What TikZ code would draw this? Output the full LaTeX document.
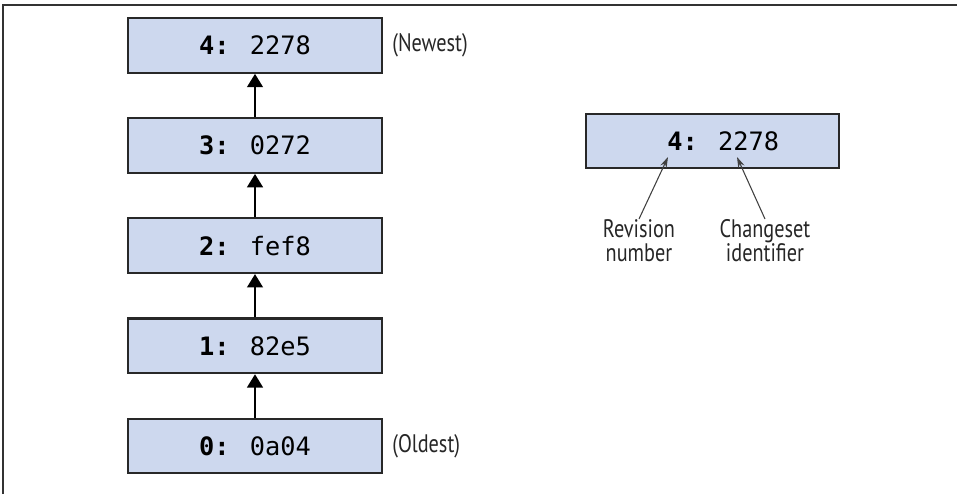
\documentclass[tikz,border=0pt]{standalone}
\usepackage{fontspec}
\usepackage{xcolor}
\usetikzlibrary{positioning,arrows.meta}
\newfontfamily\codefont{DejaVu Sans Mono}
\newfontfamily\notefont[FakeStretch=0.8]{PT Sans}
\definecolor{revfill}{RGB}{205,216,238}
\definecolor{revline}{RGB}{40,40,40}

\begin{document}
\begin{tikzpicture}[x=0.75pt, y=-0.75pt,
		revnode/.style={rectangle, draw=revline, fill=revfill, line width=1.6pt, minimum width=190pt, minimum height=41pt, inner sep=0pt, font=\codefont\fontsize{19}{22}\selectfont},
		notenode/.style={font=\notefont\fontsize{19}{18}\selectfont, text=black!85, inner sep=0pt},
		node distance=32.5pt,
	]
		\useasboundingbox (0,0) rectangle (957,494);
		% frame
		\draw[line width=1.5pt, black!80] (3,494) -- (3,5) -- (957,5);

		% nodes
		\node[revnode] (rev0) at (255,446)	{\textbf{0:} 0a04};
		\node[revnode] (rev1) [above=of rev0]	{\textbf{1:} 82e5};
		\node[revnode] (rev2) [above=of rev1]	{\textbf{2:} fef8};
		\node[revnode] (rev3) [above=of rev2]	{\textbf{3:} 0272};
		\node[revnode] (rev4) [above=of rev3]	{\textbf{4:} 2278};
		\node[notenode] (newest) [right=7pt of rev4]	{(Newest)};
		\node[notenode] (oldest) [right=7pt of rev0]	{(Oldest)};

		\node[revnode] (sample) at (712.5,141)	{\hspace*{16pt}\textbf{4:} 2278};
		\coordinate (revtip) at (668,157);
		\coordinate (chgtip) at (737,157);
		\node[notenode, align=center, anchor=north] (revlabel) at (639,219)	{Revision\\number};
		\node[notenode, align=center, anchor=north] (chglabel) at (765,219)	{Changeset\\identifier};

		% lines
		\draw[line width=1pt, -{Triangle[length=10pt, width=12pt]}] (rev0.north) -- (rev1.south);
		\draw[line width=1pt, -{Triangle[length=10pt, width=12pt]}] (rev1.north) -- (rev2.south);
		\draw[line width=1pt, -{Triangle[length=10pt, width=12pt]}] (rev2.north) -- (rev3.south);
		\draw[line width=1pt, -{Triangle[length=10pt, width=12pt]}] (rev3.north) -- (rev4.south);
		\draw[line width=0.8pt, black!75, -{Stealth[length=8pt, width=5pt]}] (revlabel.north) -- (revtip);
		\draw[line width=0.8pt, black!75, -{Stealth[length=8pt, width=5pt]}] (chglabel.north) -- (chgtip);
	\end{tikzpicture}
\end{document}
